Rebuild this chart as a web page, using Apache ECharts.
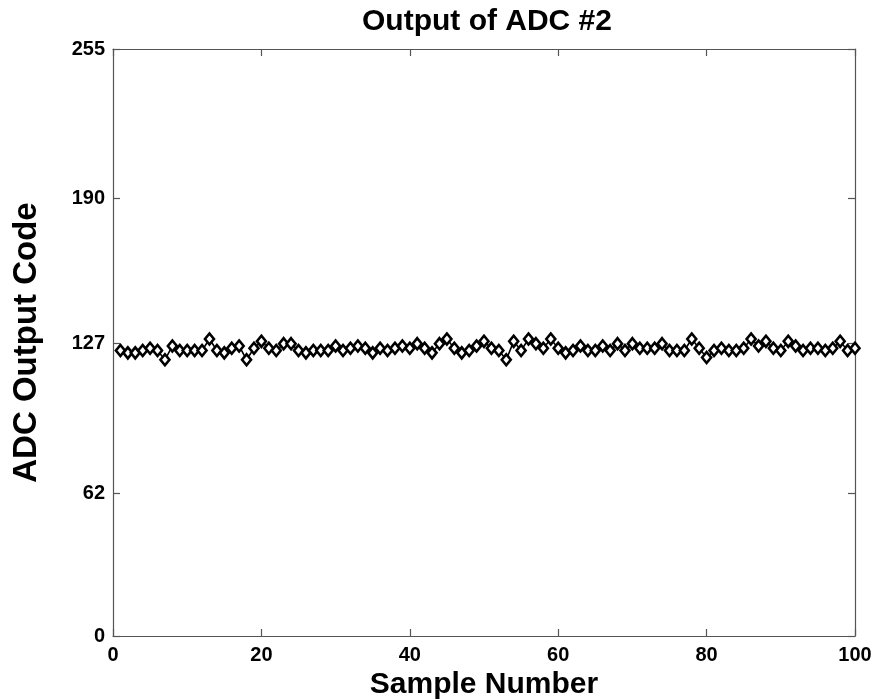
<!DOCTYPE html>
<html>
<head>
<meta charset="utf-8">
<script src="https://cdn.jsdelivr.net/npm/echarts@6/dist/echarts.min.js"></script>
<style>html,body{margin:0;padding:0;background:#fff}#c{width:880px;height:700px}</style>
</head>
<body>
<div id="c"></div>
<script>
const titleText = "Output of ADC #2";
const xName = "Sample Number";
const yName = "ADC Output Code";
const xTicks = [0, 20, 40, 60, 80, 100];
const yTicks = [0, 62, 127, 190, 255];
const sampleNumbers = [
  1,2,3,4,5,6,7,8,9,10,11,12,13,14,15,16,17,18,19,20,
  21,22,23,24,25,26,27,28,29,30,31,32,33,34,35,36,37,38,39,40,
  41,42,43,44,45,46,47,48,49,50,51,52,53,54,55,56,57,58,59,60,
  61,62,63,64,65,66,67,68,69,70,71,72,73,74,75,76,77,78,79,80,
  81,82,83,84,85,86,87,88,89,90,91,92,93,94,95,96,97,98,99,100
];
const adcCodes = [
  124,123,123,124,125,124,120,126,124,124,
  124,124,129,124,123,125,126,120,125,128,
  125,124,127,127,124,123,124,124,124,126,
  124,125,126,125,123,125,124,125,126,125,
  127,125,123,127,129,125,123,124,126,128,
  125,124,120,128,124,129,127,125,129,125,
  123,124,126,124,124,126,124,127,124,127,
  125,125,125,127,124,124,124,129,125,121,
  124,125,124,124,125,129,126,128,125,124,
  128,126,124,125,125,124,125,128,124,125
];

const points = sampleNumbers.map((s, i) => [s, adcCodes[i]]);
const font = 'Liberation Sans, Arial, sans-serif';
const axisGray = '#555555';

const tickStyle = {show: true, inside: true, length: 7, lineStyle: {color: '#555555', width: 1.2}};
const lineStyleAxis = {show: true, onZero: false, lineStyle: {color: axisGray, width: 1.2}};

const chart = echarts.init(document.getElementById('c'), null, {renderer: 'canvas'});
chart.setOption({
  animation: false,
  backgroundColor: '#ffffff',
  title: {
    text: titleText,
    left: 482, top: 2, textAlign: 'center',
    textStyle: {fontFamily: font, fontWeight: 'bold', fontSize: 30, color: '#000'}
  },
  grid: {left: 113, right: 25, top: 49, bottom: 64, show: false, outerBoundsMode: 'none', containLabel: false},
  xAxis: [{
    type: 'value', min: 0, max: 100, interval: 20, position: 'bottom',
    name: xName, nameLocation: 'middle', nameGap: 33,
    nameTextStyle: {fontFamily: font, fontWeight: 'bold', fontSize: 30, color: '#000'},
    axisLine: lineStyleAxis,
    axisTick: tickStyle,
    axisLabel: {fontFamily: font, fontWeight: 'bold', fontSize: 20, color: '#000', margin: 9},
    splitLine: {show: false}
  }, {
    type: 'value', min: 0, max: 100, interval: 20, position: 'top',
    axisLine: lineStyleAxis,
    axisTick: tickStyle,
    axisLabel: {show: false},
    splitLine: {show: false}
  }],
  yAxis: [{
    type: 'value', min: 0, max: 255, position: 'left',
    name: yName, nameLocation: 'middle', nameGap: 70, nameRotate: 90,
    nameTextStyle: {fontFamily: font, fontWeight: 'bold', fontSize: 33, color: '#000'},
    axisLine: lineStyleAxis,
    axisTick: Object.assign({}, tickStyle, {customValues: yTicks}),
    axisLabel: {fontFamily: font, fontWeight: 'bold', fontSize: 20, color: '#000', margin: 8, customValues: yTicks},
    splitLine: {show: false}
  }, {
    type: 'value', min: 0, max: 255, position: 'right',
    axisLine: lineStyleAxis,
    axisTick: Object.assign({}, tickStyle, {customValues: yTicks}),
    axisLabel: {show: false},
    splitLine: {show: false}
  }],
  series: [{
    type: 'line',
    xAxisIndex: 0, yAxisIndex: 0,
    data: points,
    symbol: 'diamond',
    symbolSize: [9, 11],
    showAllSymbol: true,
    lineStyle: {color: '#000', width: 1.6},
    itemStyle: {color: '#ffffff', borderColor: '#000', borderWidth: 2.6}
  }]
});
</script>
</body>
</html>
